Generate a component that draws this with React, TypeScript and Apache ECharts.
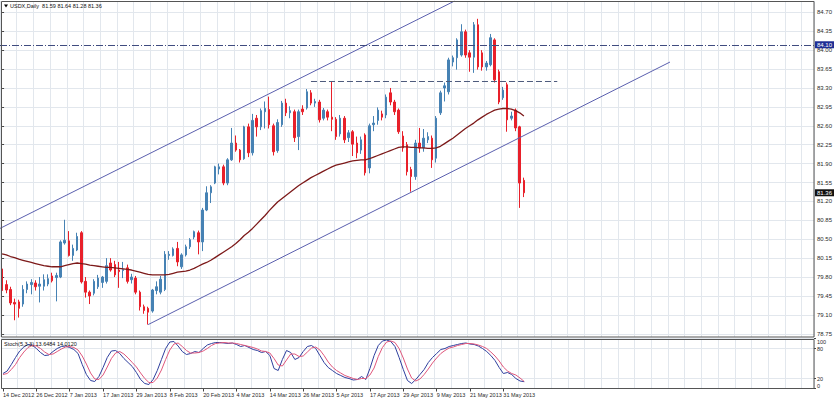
import React, { useEffect, useRef } from 'react';
import * as echarts from 'echarts';

// ---- Data ----
const symbolTitle = 'USDX,Daily';
const firstDay = '2012-12-14';
const futureSlots = 69;

const openP = [79.95,79.66,79.57,79.33,79.34,79.30,79.57,79.66,79.69,79.63,79.63,79.67,79.82,79.79,79.80,80.43,80.47,80.20,80.30,80.62,
79.72,79.52,79.50,79.62,79.70,79.72,80.06,80.03,79.93,79.92,79.97,79.75,79.78,79.52,79.25,79.22,79.17,79.55,79.52,79.57,
80.20,80.20,80.33,79.99,80.21,80.36,80.54,80.62,80.45,81.04,81.36,81.54,81.80,81.84,81.54,81.97,82.28,82.15,81.99,82.58,
82.10,82.74,82.58,82.86,82.90,82.60,82.14,82.62,83.02,82.84,82.86,82.40,82.91,82.93,83.21,83.02,83.04,82.74,82.86,82.76,
82.72,82.45,82.74,82.38,82.49,82.28,82.15,82.43,81.82,82.62,82.70,82.82,82.80,83.21,83.04,82.89,82.41,82.25,81.79,81.66,
82.28,82.19,82.34,82.37,82.00,82.84,83.30,83.23,83.78,83.86,83.91,84.34,83.95,83.87,84.47,83.95,83.69,83.73,84.19,83.60,
83.12,83.36,82.74,82.89,82.58,81.59];
const closeP = [79.55,79.56,79.32,79.30,79.22,79.57,79.67,79.70,79.62,79.67,79.75,79.77,79.73,79.83,80.45,80.48,80.20,80.33,80.55,79.71,
79.52,79.45,79.72,79.78,79.80,80.01,79.93,79.84,79.90,79.94,79.72,79.80,79.52,79.25,79.18,79.15,79.56,79.62,79.76,80.22,
80.22,80.32,80.08,80.21,80.36,80.49,80.64,80.45,81.04,81.36,81.47,81.84,81.84,81.54,81.97,82.28,82.15,81.97,82.58,82.10,
82.70,82.58,82.88,82.92,82.62,82.12,82.66,83.02,82.84,82.88,82.38,82.86,82.86,83.23,83.02,83.05,82.71,82.89,82.76,82.72,
82.40,82.74,82.34,82.47,82.26,82.10,82.34,81.73,82.60,82.65,82.89,82.76,83.13,83.04,82.86,82.49,82.19,81.75,81.66,82.28,
82.19,82.37,82.40,81.97,82.74,83.21,83.34,83.82,83.86,84.19,84.34,83.91,83.87,84.47,83.69,83.69,83.76,84.23,83.45,83.04,
83.26,82.71,82.78,82.56,81.54,81.36];
const lowP = [79.45,79.50,79.28,79.00,79.05,79.25,79.50,79.48,79.55,79.33,79.55,79.63,79.70,79.35,79.78,80.40,80.18,80.10,80.28,79.68,
79.42,79.30,79.46,79.58,79.60,79.68,79.90,79.80,79.60,79.78,79.68,79.68,79.48,79.18,79.12,78.92,79.14,79.48,79.48,79.54,
80.12,80.18,80.00,79.95,80.18,80.32,80.50,80.22,80.28,81.02,81.17,81.52,81.70,81.50,81.50,81.95,82.12,81.92,81.97,82.02,
82.05,82.40,82.52,82.55,82.55,82.05,82.10,82.58,82.78,82.74,82.30,82.15,82.80,82.90,82.98,82.95,82.66,82.70,82.70,82.50,
82.34,82.40,82.28,82.30,82.04,82.00,82.08,81.68,81.72,82.50,82.62,82.70,82.74,82.98,82.80,82.45,82.12,81.68,81.38,81.60,
82.10,82.12,82.28,81.82,81.92,82.80,83.05,83.18,83.70,83.64,83.88,83.86,83.60,83.58,83.64,83.62,83.62,83.70,83.40,83.00,
83.08,82.49,82.70,82.50,81.08,81.28];
const highP = [80.02,79.74,79.62,79.40,79.38,79.65,79.72,79.76,79.74,79.80,79.85,79.85,79.88,79.88,80.48,80.86,80.65,80.40,80.62,80.65,
79.80,79.55,79.76,79.84,79.82,80.15,80.15,80.10,80.08,80.08,80.03,79.86,79.82,79.55,79.29,79.25,79.58,79.72,79.82,80.28,
80.28,80.35,80.45,80.24,80.40,80.52,80.66,80.66,81.08,81.48,81.50,81.86,81.90,81.88,82.00,82.56,82.42,82.17,82.60,82.64,
82.82,82.80,82.92,83.05,83.14,82.64,82.72,83.06,83.10,82.96,82.90,82.90,82.98,83.28,83.26,83.10,83.08,82.93,82.90,83.42,
82.76,82.80,82.78,82.52,82.52,82.40,82.40,82.46,82.64,82.78,82.94,82.88,83.18,83.30,83.08,82.92,82.50,82.30,81.84,82.34,
82.56,82.54,82.48,82.42,82.78,83.25,83.40,83.86,83.90,84.22,84.48,84.38,84.00,84.52,84.58,84.00,83.80,84.30,84.22,83.64,
83.32,83.40,82.86,82.92,82.60,81.64];

const maValues = [80.23,80.21,80.18,80.16,80.13,80.11,80.09,80.07,80.05,80.03,80.01,80.00,79.99,79.99,79.99,80.01,80.03,80.05,80.06,80.05,
80.04,80.02,80.01,80.00,79.99,79.98,79.98,79.97,79.96,79.95,79.94,79.93,79.91,79.89,79.87,79.85,79.84,79.84,79.84,79.84,
79.85,79.87,79.89,79.90,79.91,79.93,79.96,80.00,80.04,80.07,80.11,80.16,80.21,80.26,80.31,80.36,80.42,80.49,80.57,80.63,
80.70,80.78,80.86,80.94,81.03,81.11,81.19,81.25,81.31,81.37,81.43,81.49,81.54,81.59,81.64,81.68,81.72,81.76,81.80,81.84,
81.87,81.89,81.91,81.93,81.95,81.96,81.97,81.97,81.99,82.02,82.05,82.08,82.11,82.14,82.17,82.20,82.21,82.21,82.20,82.20,
82.19,82.19,82.18,82.18,82.19,82.22,82.27,82.32,82.37,82.43,82.49,82.55,82.60,82.65,82.71,82.76,82.81,82.85,82.89,82.91,
82.92,82.92,82.91,82.88,82.84,82.78];

const stochMain = [30,35,48,62,75,83,88,87,80,72,66,67,74,80,84,85,82,78,70,48,
28,16,14,24,42,62,75,76,70,60,52,44,32,18,10,8,18,36,58,80,
93,94,85,74,68,70,74,72,80,87,90,92,92,91,90,91,88,84,86,82,
78,76,72,74,66,40,36,58,76,72,58,62,74,84,86,80,66,52,42,36,
30,26,22,20,17,18,24,18,40,66,86,95,97,94,84,62,38,16,10,18,
28,38,52,62,70,78,80,84,86,88,90,91,89,88,85,80,74,66,56,42,
30,32,28,20,15,13.6484];
const stochSignal = [28,30,38,48,62,73,82,86,85,80,73,68,69,74,79,83,84,82,77,65,
49,31,19,18,27,43,60,71,74,69,61,52,43,31,20,12,12,21,37,58,
77,89,91,84,76,71,71,72,75,80,86,90,91,92,91,91,90,88,86,84,
82,79,75,74,71,60,47,45,57,69,69,64,65,73,81,83,77,66,53,43,
36,31,26,23,20,18,20,20,27,41,64,82,93,95,92,80,61,39,21,15,
19,28,39,51,61,70,76,81,83,86,88,90,90,89,87,84,80,73,65,55,
43,35,30,27,21,14.0120];

const priceTicks = [78.75,79.10,79.45,79.80,80.15,80.50,80.85,81.20,81.55,81.90,82.25,82.60,82.95,83.30,83.65,84.00,84.35,84.70];
const stochTicks = [0,20,80,100];

const upperChannel = [[-0.5, 80.70], [108.4, 84.91]];
const lowerChannel = [[35, 78.92], [160, 83.78]];
const resistanceLine = [[74, 83.42], [133, 83.42]];
const levelPrice = 84.10;

// ---- helpers ----
const MONTHS = ['Jan','Feb','Mar','Apr','May','Jun','Jul','Aug','Sep','Oct','Nov','Dec'];
function tradingDays(startISO: string, count: number): string[] {
  const out: string[] = [];
  const d = new Date(startISO + 'T00:00:00Z');
  while (out.length < count) {
    const wd = d.getUTCDay();
    if (wd !== 0 && wd !== 6) out.push(`${d.getUTCDate()} ${MONTHS[d.getUTCMonth()]} ${d.getUTCFullYear()}`);
    d.setUTCDate(d.getUTCDate() + 1);
  }
  return out;
}

export default function App() {
  const ref = useRef<HTMLDivElement>(null);
  useEffect(() => {
    if (!ref.current) return;
    const chart = echarts.init(ref.current, null, { renderer: 'svg' });
    const n = openP.length;
    const dates = tradingDays(firstDay, n);
    const cats = dates.concat(Array.from({ length: futureSlots }, (_, k) => `f${k}`));
    const total = cats.length;
    const gridColor = '#e2e7ed';
    const textColor = '#2a2a2a';
    const ff = 'Liberation Sans, Arial, sans-serif';
    const up = '#4682b4';
    const down = '#e8202a';
    const showLabel = (idx: number, v: string) => idx % 8 === 0 && !String(v).startsWith('f');
    const candles = openP.map((o, i) => [o, closeP[i], lowP[i], highP[i]]);
    const last = n - 1;
    const title = `${symbolTitle}  ${openP[last].toFixed(2)} ${highP[last].toFixed(2)} ${lowP[last].toFixed(2)} ${closeP[last].toFixed(2)}`;
    const stochTitle = `Stoch(5,3,3) ${stochMain[last].toFixed(4)} ${stochSignal[last].toFixed(4)}`;

    chart.setOption({
      animation: false,
      backgroundColor: '#ffffff',
      textStyle: { fontFamily: ff },
      grid: [
        { left: 0, top: 1, width: 814, height: 336 },
        { left: 0, top: 338.5, width: 814, height: 50 },
      ],
      xAxis: [
        {
          type: 'category', gridIndex: 0, data: cats, boundaryGap: true,
          axisLine: { show: false }, axisTick: { show: false }, axisLabel: { show: false },
          splitLine: { show: true, interval: 3, lineStyle: { color: gridColor, width: 1 } },
        },
        {
          type: 'category', gridIndex: 1, data: cats, boundaryGap: true,
          axisLine: { show: false },
          axisTick: { show: true, alignWithLabel: true, interval: showLabel, length: 3, lineStyle: { color: '#444' } },
          axisLabel: {
            interval: showLabel, formatter: (v: string) => (v.startsWith('f') ? '' : v),
            align: 'left', fontSize: 5.5, color: textColor, margin: 3, fontFamily: ff,
          },
          splitLine: { show: true, interval: 3, lineStyle: { color: gridColor, width: 1 } },
        },
        { type: 'value', gridIndex: 0, min: -0.5, max: total - 0.5, show: false },
      ],
      yAxis: [
        {
          type: 'value', gridIndex: 0, position: 'right', min: 78.69, max: 84.91,
          axisLine: { show: false },
          axisTick: { show: true, customValues: priceTicks, length: 2, lineStyle: { color: '#444' } },
          axisLabel: { customValues: priceTicks, formatter: (v: number) => v.toFixed(2), fontSize: 6, color: textColor, margin: 3, fontFamily: ff },
          splitLine: { show: true, lineStyle: { color: gridColor, width: 1 } },
        },
        {
          type: 'value', gridIndex: 1, position: 'right', min: 0, max: 100,
          axisLine: { show: false },
          axisTick: { show: true, customValues: stochTicks, length: 2, lineStyle: { color: '#444' } },
          axisLabel: {
            customValues: stochTicks, fontSize: 5.5, color: textColor, margin: 3, fontFamily: ff,
            verticalAlignMaxLabel: 'top', verticalAlignMinLabel: 'bottom',
          },
          splitLine: { show: true, lineStyle: { color: gridColor, width: 1 } },
        },
      ],
      series: [
        {
          type: 'candlestick', xAxisIndex: 0, yAxisIndex: 0, data: candles, barWidth: 2,
          itemStyle: { color: up, color0: down, borderColor: up, borderColor0: down, borderWidth: 1 },
          markLine: {
            symbol: 'none', silent: true, animation: false,
            data: [
              {
                yAxis: levelPrice,
                lineStyle: { type: [7, 2, 1, 2], color: '#3f4b7f', width: 1 },
                label: {
                  show: true, position: 'end', distance: 1, formatter: levelPrice.toFixed(2),
                  backgroundColor: '#1f2f95', color: '#ffffff', fontSize: 6, padding: [1, 2, 0, 2], fontFamily: ff,
                },
              },
              {
                yAxis: closeP[last],
                lineStyle: { color: 'rgba(0,0,0,0)', width: 1 },
                label: {
                  show: true, position: 'end', distance: 1, formatter: closeP[last].toFixed(2),
                  backgroundColor: '#111111', color: '#ffffff', fontSize: 6, padding: [1, 2, 0, 2], fontFamily: ff,
                },
              },
            ],
          },
        },
        {
          type: 'line', xAxisIndex: 0, yAxisIndex: 0, data: maValues, symbol: 'none',
          lineStyle: { color: '#7d1a1a', width: 1.3 }, z: 3,
        },
        {
          type: 'line', xAxisIndex: 2, yAxisIndex: 0, data: upperChannel, symbol: 'none',
          lineStyle: { color: '#5a5fae', width: 1 },
        },
        {
          type: 'line', xAxisIndex: 2, yAxisIndex: 0, data: lowerChannel, symbol: 'none',
          lineStyle: { color: '#5a5fae', width: 1 },
        },
        {
          type: 'line', xAxisIndex: 2, yAxisIndex: 0, data: resistanceLine, symbol: 'none',
          lineStyle: { color: '#4c5a7c', width: 1, type: [6, 3] },
        },
        {
          type: 'line', xAxisIndex: 1, yAxisIndex: 1, data: stochMain, symbol: 'none',
          lineStyle: { color: '#2f3f9e', width: 1 },
        },
        {
          type: 'line', xAxisIndex: 1, yAxisIndex: 1, data: stochSignal, symbol: 'none',
          lineStyle: { color: '#e0577c', width: 1 },
        },
      ],
      graphic: [
        { type: 'rect', z: 100, shape: { x: 1.5, y: 1.5, width: 812.5, height: 335.5 }, style: { fill: 'none', stroke: '#555', lineWidth: 1 } },
        { type: 'rect', z: 100, shape: { x: 1.5, y: 339.5, width: 812.5, height: 49 }, style: { fill: 'none', stroke: '#555', lineWidth: 1 } },
        { type: 'polygon', z: 100, shape: { points: [[4, 4.5], [8, 4.5], [6, 7.5]] }, style: { fill: '#000' } },
        { type: 'text', z: 100, x: 10, y: 3, style: { text: title, fontSize: 5.5, fill: '#111', fontFamily: ff } },
        { type: 'text', z: 100, x: 4, y: 341, style: { text: stochTitle, fontSize: 5.5, fill: '#111', fontFamily: ff } },
      ],
    });
    return () => chart.dispose();
  }, []);
  return <div ref={ref} style={{ position: 'fixed', left: 0, top: 0, width: 835, height: 398, background: '#fff' }} />;
}
